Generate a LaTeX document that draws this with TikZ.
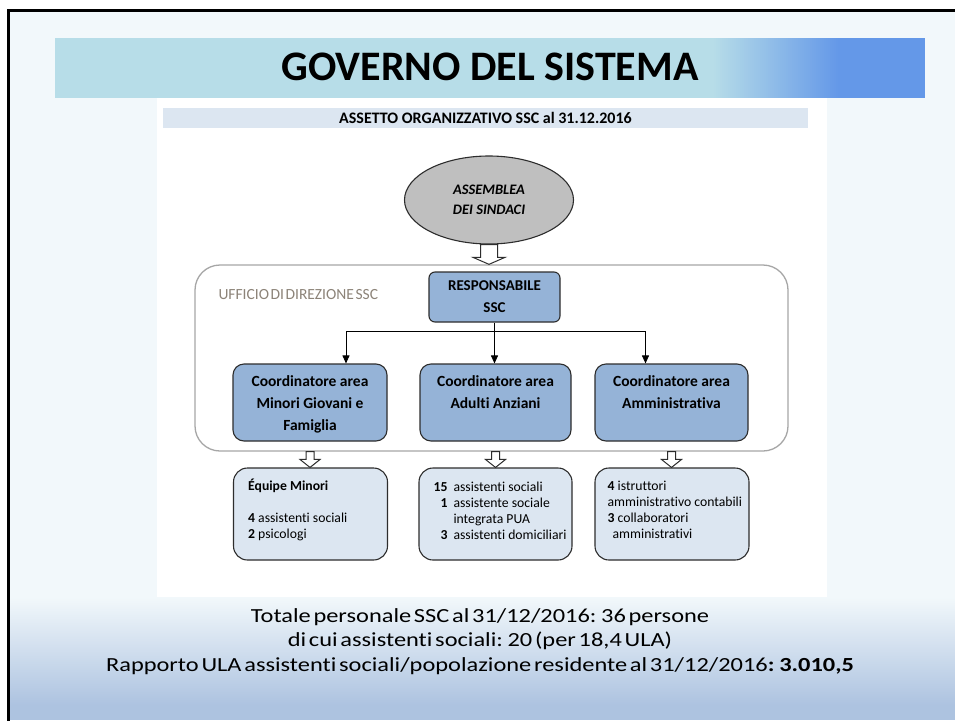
\documentclass[tikz,border=0pt]{standalone}
\usepackage{fontspec}
\setmainfont[Ligatures=NoCommon]{Carlito}
\newfontfamily\footfont[FakeStretch=1.22,WordSpace=0.5,Ligatures=NoCommon]{Carlito}
\newfontfamily\tightfont[WordSpace=0.45]{Carlito}
\usetikzlibrary{arrows.meta, positioning, shapes.geometric, calc}
\definecolor{slidebg}{RGB}{242,248,251}
\definecolor{footblue}{RGB}{173,195,224}
\definecolor{titleblue}{RGB}{183,221,232}
\definecolor{titledeep}{RGB}{100,152,232}
\definecolor{bandblue}{RGB}{220,230,241}
\definecolor{boxblue}{RGB}{149,179,215}
\definecolor{palefill}{RGB}{220,230,241}
\definecolor{boxline}{RGB}{45,45,45}
\definecolor{ellgray}{RGB}{191,191,191}
\definecolor{framegray}{RGB}{166,166,166}
\definecolor{labelgray}{RGB}{140,131,120}

% block arrow between two anchors: from, to, half shaft, half head, head length
\newcommand{\hollowarrow}[5]{%
  \draw[hollow] let \p1=(#1), \p2=(#2) in
    (\x1-#3,\y1) -- (\x1+#3,\y1) -- (\x1+#3,\y2+#5) -- (\x1+#4,\y2+#5)
    -- (\x1,\y2) -- (\x1-#4,\y2+#5) -- (\x1-#3,\y2+#5) -- cycle;}

\begin{document}
\begin{tikzpicture}[x=1pt, y=-1pt,
  bluebox/.style={draw=boxline, fill=boxblue, line width=1.1pt, rounded corners=8pt},
  coordbox/.style={bluebox, rounded corners=11pt, minimum height=77pt},
  coordtxt/.style={font=\fontsize{15.5}{22}\selectfont\bfseries, align=center, inner sep=0pt},
  palebox/.style={draw=boxline, fill=palefill, line width=1.1pt, rounded corners=14pt,
                  minimum height=92pt},
  paletxt/.style={font=\fontsize{13.7}{16}\selectfont, align=left, inner sep=0pt},
  conn/.style={line width=0.9pt},
  hollow/.style={draw=boxline, fill=white, line width=1pt}]
  \useasboundingbox (0,0) rectangle (955,720);
  \clip (0,0) rectangle (955,720);
  % slide background
  \fill[white] (0,0) rectangle (955,720);
  \fill[slidebg] (10,12) rectangle (955,720);
  \shade[top color=slidebg, bottom color=footblue] (10,597) rectangle (955,705);
  \fill[footblue] (10,704.5) rectangle (955,720);
  \draw[line width=2.5pt] (8.7,10.5) rectangle (990,760);
  % title bar
  \fill[titleblue] (55,38) rectangle (713,98);
  \foreach \i in {0,...,63} {
    \pgfmathsetmacro\mix{\i*100/63}
    \fill[titledeep!\mix!titleblue] (712+2*\i,38) rectangle (714.5+2*\i,98);
  }
  \fill[titledeep] (839.5,38) rectangle (925,98);
  \node[font=\fontsize{42}{50}\selectfont\bfseries, anchor=base] (titolo) at (490,80)
    {GOVERNO DEL SISTEMA};
  % chart panel
  \fill[white] (157,98) rectangle (827,597);
  \fill[bandblue] (163,108) rectangle (808,128);
  \node[font=\fontsize{16}{19}\selectfont\bfseries] (intestazione) at (485.5,118)
    {ASSETTO ORGANIZZATIVO SSC al 31.12.2016};
  % office frame
  \node[draw=framegray, line width=1.3pt, rounded corners=25pt,
        minimum width=593pt, minimum height=186pt] (ufficio) at (491.5,358) {};
  \node[anchor=west, font=\fontsize{15.5}{18}\tightfont, text=labelgray] (ufficiolbl)
    at (215,295) {UFFICIO DI DIREZIONE SSC};
  % top of the chart
  \node[ellipse, draw=boxline, fill=ellgray, line width=1.1pt, minimum width=169pt,
        minimum height=88pt, align=center,
        font=\fontsize{14.5}{20}\selectfont\bfseries\itshape] (assemblea) at (489,200)
    {ASSEMBLEA\\DEI SINDACI};
  \node[bluebox, rounded corners=6pt, minimum width=131pt, minimum height=50pt,
        align=center, font=\fontsize{15}{22}\selectfont\bfseries] (resp) at (494.5,297)
    {RESPONSABILE\\SSC};
  % coordinators
  \node[coordbox, minimum width=154pt] (coordA) at (310,402.5) {};
  \node[coordbox, minimum width=151pt] (coordB) at (495.5,402.5) {};
  \node[coordbox, minimum width=153pt] (coordC) at (671.5,402.5) {};
  \node[coordtxt, below=12pt of coordA.north] (coordAtxt)
    {Coordinatore area\\Minori Giovani e\\Famiglia};
  \node[coordtxt, below=12pt of coordB.north] (coordBtxt)
    {Coordinatore area\\Adulti Anziani};
  \node[coordtxt, below=12pt of coordC.north] (coordCtxt)
    {Coordinatore area\\Amministrativa};
  % branches
  \coordinate (split) at ($(resp.south)+(0,9)$);
  \draw[conn] (resp.south) -- (split);
  \draw[conn, -{Triangle[width=7pt,length=8pt]}] (split) -| ([xshift=36pt]coordA.north);
  \draw[conn, -{Triangle[width=7pt,length=8pt]}] (split) -- (split |- coordB.north);
  \draw[conn, -{Triangle[width=7pt,length=8pt]}] (split) -| ([xshift=-26pt]coordC.north);
  % staff boxes
  \node[palebox, minimum width=154pt] (botA) at (310.5,514) {};
  \node[palebox, minimum width=153pt] (botB) at (495.5,514) {};
  \node[palebox, minimum width=154pt] (botC) at (672,514) {};
  \node[paletxt, below right=11pt and 15pt of botA.north west] (botAtxt)
    {\textbf{Équipe Minori}\\[16pt]\textbf{4} assistenti sociali\\\textbf{2} psicologi};
  \node[paletxt, below right=13pt and 15pt of botB.north west] (botBtxt)
    {\begin{tabular}{@{}r@{\hspace{6pt}}l@{}}
       \textbf{15} & assistenti sociali\\
       \textbf{1} & assistente sociale\\
                  & integrata PUA\\
       \textbf{3} & assistenti domiciliari
     \end{tabular}};
  \node[paletxt, below right=13pt and 13pt of botC.north west] (botCtxt)
    {\textbf{4} istruttori\\amministrativo contabili\\\textbf{3} collaboratori\\
     \hspace*{5pt}amministrativi};
  % block arrows
  \hollowarrow{assemblea.south}{ufficio.north}{8.5pt}{16pt}{7pt}
  \hollowarrow{coordA.south |- ufficio.south}{botA.north}{4pt}{10pt}{8pt}
  \hollowarrow{coordB.south |- ufficio.south}{botB.north}{4pt}{10pt}{8pt}
  \hollowarrow{coordC.south |- ufficio.south}{botC.north}{4pt}{10pt}{8pt}
  % summary
  \node[align=center, font=\fontsize{20}{24.5}\footfont] (totale) at (480,641.5)
    {Totale personale SSC al 31/12/2016: 36 persone\\
     di cui assistenti sociali: 20 (per 18,4 ULA)\\
     Rapporto ULA assistenti sociali/popolazione residente al 31/12/2016\textbf{: 3.010,5}};
\end{tikzpicture}
\end{document}
